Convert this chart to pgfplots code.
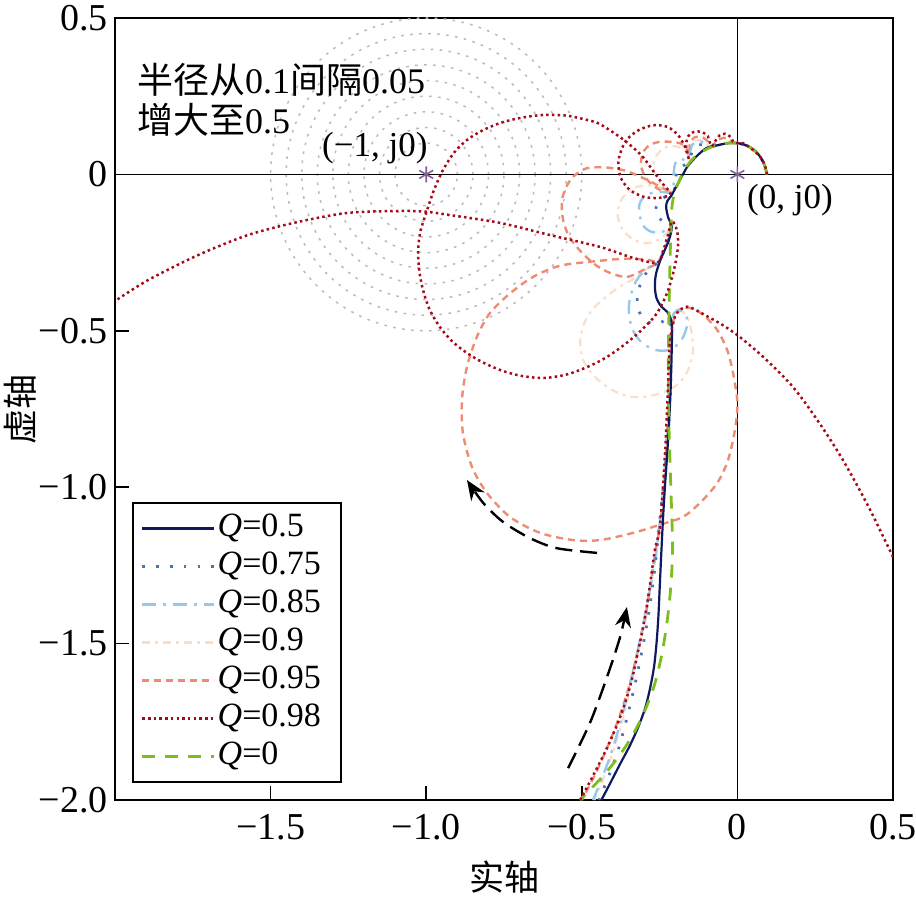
\documentclass[border=0pt]{standalone}
\usepackage{pgfplots}
\pgfplotsset{compat=1.18}
\usepackage{fontspec}
\usetikzlibrary{arrows.meta}
\setmainfont{Liberation Serif}
\newfontfamily\cjk{Noto Sans CJK SC}
\definecolor{cnavy}{RGB}{15,25,95}
\definecolor{cblue}{RGB}{75,115,175}
\definecolor{clblue}{RGB}{150,200,235}
\definecolor{cpeach}{RGB}{250,222,200}
\definecolor{csalmon}{RGB}{238,140,115}
\definecolor{cred}{RGB}{165,10,25}
\definecolor{cgreen}{RGB}{125,190,30}
\definecolor{cgray}{RGB}{185,185,192}
\definecolor{cpurple}{RGB}{130,95,150}
\tikzset{
  s05/.style={cnavy, line width=1.1pt, solid},
  s075/.style={cblue, line width=1.4pt, dash pattern=on 1.3pt off 5.6pt},
  s085/.style={clblue, line width=1.2pt, dash pattern=on 7pt off 3.5pt on 1.4pt off 3.5pt},
  s09/.style={cpeach, line width=1.1pt, dash pattern=on 4pt off 2.5pt on 1.5pt off 2.5pt},
  s095/.style={csalmon, line width=1.2pt, dash pattern=on 3.5pt off 2.5pt},
  s098/.style={cred, line width=1.25pt, dash pattern=on 1.25pt off 1.6pt},
  s0/.style={cgreen, line width=1.4pt, dash pattern=on 6.5pt off 5pt},
}
\begin{document}
\begin{tikzpicture}
\path[use as bounding box] (-57.5pt,-50.5pt) rectangle (400.5pt,400pt);
\begin{axis}[
  at={(0,0)}, anchor=south west,
  scale only axis, width=389pt, height=391pt,
  xmin=-2, xmax=0.5, ymin=-2, ymax=0.5,
  axis line style={line width=0.8pt},
  xtick={-1.5,-1,-0.5,0,0.5},
  xticklabels={\mbox{−1.5},\mbox{−1.0},\mbox{−0.5},\mbox{0},\mbox{0.5}},
  ytick={-2,-1.5,-1,-0.5,0,0.5},
  yticklabels={\mbox{−2.0},\mbox{−1.5},\mbox{−1.0},\mbox{−0.5},\mbox{0},\mbox{0.5}},
  xtick pos=left, ytick pos=left,
  tick align=inside, major tick length=7pt,
  tick style={line width=0.8pt, black},
  tick label style={font=\fontsize{19}{21}\selectfont},
  xticklabel style={yshift=-3.5pt},
  xlabel={\cjk 实轴}, ylabel={\cjk 虚轴},
  label style={font=\fontsize{17.5}{20}\selectfont},
  xlabel style={at={(axis description cs:0.501,-0.0985)}, anchor=center},
  ylabel style={at={(axis description cs:-0.122,0.5)}, anchor=center},
  legend style={at={(axis description cs:0.022,0.022)}, anchor=south west,
    font=\fontsize{17}{19}\selectfont, draw=black, line width=0.8pt,
    inner sep=4pt, row sep=1.5pt,
    nodes={inner sep=1pt, text height=12pt, text depth=3.5pt}},
  legend cell align=left,
  legend image code/.code={\draw[#1] (0pt,0pt) -- (36pt,0pt);},
]
% legend entries
\addlegendimage{s05}\addlegendentry{\textit{Q}=0.5}
\addlegendimage{s075}\addlegendentry{\textit{Q}=0.75\rule{5pt}{0pt}}
\addlegendimage{s085}\addlegendentry{\textit{Q}=0.85}
\addlegendimage{s09}\addlegendentry{\textit{Q}=0.9}
\addlegendimage{s095}\addlegendentry{\textit{Q}=0.95}
\addlegendimage{s098}\addlegendentry{\textit{Q}=0.98}
\addlegendimage{s0}\addlegendentry{\textit{Q}=0}

% gray circles (radius 0.1 to 0.5 step 0.05 around -1+j0)
\pgfplotsinvokeforeach{0.1,0.15,0.2,0.25,0.3,0.35,0.4,0.45,0.5}{
  \draw[cgray, line width=0.75pt, dash pattern=on 1.3pt off 3.2pt] (axis cs:-1,0) ellipse [x radius=#1, y radius=#1];
}
% axes through origin
\draw[black, line width=0.7pt] (axis cs:-2,0) -- (axis cs:0.5,0);
\draw[black, line width=0.7pt] (axis cs:0,-2) -- (axis cs:0,0.5);

% Q=0.9
\addplot[s09, smooth, forget plot] coordinates {
(0.095,0) (0.085,0.035) (0.065,0.067) (0.035,0.09) (0,0.1) (-0.03,0.1) (-0.06,0.094) (-0.09,0.088)
(-0.1,0.1) (-0.12,0.11) (-0.14,0.105) (-0.152,0.08) (-0.155,0.05)
(-0.17,0.078) (-0.2,0.09) (-0.235,0.085) (-0.26,0.06) (-0.27,0.03) (-0.26,-0.01) (-0.235,-0.045) (-0.207,-0.058)
(-0.25,-0.04) (-0.3,-0.035) (-0.345,-0.05) (-0.375,-0.085) (-0.385,-0.13) (-0.37,-0.175) (-0.335,-0.208) (-0.29,-0.22) (-0.248,-0.205) (-0.22,-0.18) (-0.213,-0.16)
(-0.225,-0.215) (-0.24,-0.25) (-0.258,-0.283)
(-0.295,-0.305) (-0.335,-0.335) (-0.38,-0.36) (-0.42,-0.39) (-0.46,-0.425) (-0.49,-0.47) (-0.505,-0.53) (-0.495,-0.595) (-0.46,-0.645) (-0.41,-0.685) (-0.35,-0.71) (-0.29,-0.71) (-0.235,-0.695) (-0.19,-0.67) (-0.158,-0.625) (-0.143,-0.565) (-0.148,-0.5) (-0.162,-0.455) (-0.185,-0.435) (-0.205,-0.445)
(-0.213,-0.52) (-0.218,-0.65) (-0.224,-0.8) (-0.232,-0.95) (-0.244,-1.1) (-0.258,-1.2) (-0.276,-1.306) (-0.293,-1.415) (-0.318,-1.52) (-0.34,-1.62) (-0.365,-1.73) (-0.398,-1.84) (-0.43,-1.93) (-0.46,-2.0)
};
% Q=0.95
\addplot[s095, smooth, forget plot] coordinates {
(0.095,0) (0.085,0.035) (0.065,0.067) (0.035,0.09) (0,0.1) (-0.015,0.1) (-0.025,0.112) (-0.045,0.117) (-0.065,0.108) (-0.08,0.092)
(-0.09,0.09) (-0.095,0.105) (-0.115,0.12) (-0.14,0.117) (-0.153,0.095) (-0.155,0.06)
(-0.165,0.085) (-0.185,0.1) (-0.24,0.105) (-0.28,0.095) (-0.303,0.07) (-0.31,0.03) (-0.295,-0.01) (-0.265,-0.04) (-0.235,-0.055) (-0.207,-0.058)
(-0.238,-0.045) (-0.275,-0.025) (-0.313,-0.007) (-0.36,0.012) (-0.42,0.022) (-0.483,0.02) (-0.525,-0.005) (-0.55,-0.04) (-0.564,-0.085) (-0.56,-0.146) (-0.54,-0.2) (-0.5,-0.25) (-0.455,-0.29) (-0.409,-0.315) (-0.355,-0.328) (-0.303,-0.306) (-0.258,-0.283)
(-0.3,-0.272) (-0.37,-0.27) (-0.451,-0.277) (-0.57,-0.292) (-0.657,-0.328) (-0.73,-0.38) (-0.795,-0.443) (-0.837,-0.519) (-0.869,-0.615) (-0.885,-0.72) (-0.882,-0.827) (-0.853,-0.935) (-0.805,-1.018) (-0.731,-1.095) (-0.634,-1.146) (-0.528,-1.169) (-0.441,-1.169) (-0.335,-1.146) (-0.249,-1.12) (-0.175,-1.095) (-0.12,-1.05) (-0.065,-0.987) (-0.03,-0.913) (-0.008,-0.817) (0,-0.73) (-0.014,-0.635) (-0.033,-0.561) (-0.065,-0.497) (-0.11,-0.449) (-0.152,-0.427) (-0.18,-0.43) (-0.2,-0.445)
(-0.212,-0.52) (-0.218,-0.65) (-0.225,-0.8) (-0.233,-0.95) (-0.246,-1.1) (-0.262,-1.2) (-0.279,-1.306) (-0.296,-1.415) (-0.32,-1.52) (-0.345,-1.626) (-0.378,-1.73) (-0.412,-1.818) (-0.458,-1.92) (-0.5,-2.0)
};
% Q=0.85
\addplot[s085, smooth, forget plot] coordinates {
(0.095,0) (0.085,0.035) (0.065,0.067) (0.035,0.09) (0,0.1) (-0.03,0.1) (-0.06,0.094) (-0.09,0.088)
(-0.105,0.1) (-0.125,0.106) (-0.145,0.095) (-0.155,0.06) (-0.165,0.045) (-0.185,0.05) (-0.2,0.035) (-0.205,0.0) (-0.205,-0.035) (-0.207,-0.058)
(-0.249,-0.056) (-0.29,-0.064) (-0.313,-0.09) (-0.315,-0.125) (-0.303,-0.163) (-0.28,-0.182) (-0.249,-0.186) (-0.225,-0.175) (-0.213,-0.16)
(-0.225,-0.215) (-0.24,-0.25) (-0.258,-0.283)
(-0.29,-0.3) (-0.325,-0.34) (-0.346,-0.4) (-0.348,-0.45) (-0.335,-0.5) (-0.305,-0.54) (-0.26,-0.562) (-0.215,-0.56) (-0.18,-0.53) (-0.162,-0.485) (-0.165,-0.45) (-0.185,-0.435) (-0.205,-0.445)
(-0.212,-0.5) (-0.214,-0.6) (-0.218,-0.7) (-0.223,-0.8) (-0.23,-0.9) (-0.238,-1.0) (-0.248,-1.1) (-0.26,-1.2) (-0.277,-1.306) (-0.298,-1.415) (-0.32,-1.52) (-0.343,-1.62) (-0.37,-1.73) (-0.402,-1.84) (-0.435,-1.93) (-0.464,-2.0)
};
% Q=0.75
\addplot[s075, smooth, forget plot] coordinates {
(0.095,0) (0.085,0.035) (0.065,0.067) (0.035,0.09) (0,0.1) (-0.03,0.1) (-0.06,0.094) (-0.09,0.088)
(-0.11,0.095) (-0.13,0.092) (-0.145,0.072) (-0.155,0.045) (-0.17,0.03) (-0.19,0.02) (-0.198,-0.01) (-0.2,-0.04) (-0.207,-0.058)
(-0.225,-0.068) (-0.245,-0.08) (-0.258,-0.097) (-0.263,-0.115) (-0.258,-0.133) (-0.243,-0.147) (-0.225,-0.155) (-0.213,-0.16)
(-0.222,-0.21) (-0.238,-0.25) (-0.258,-0.283)
(-0.285,-0.305) (-0.305,-0.335) (-0.318,-0.37) (-0.322,-0.405) (-0.315,-0.44) (-0.297,-0.465) (-0.27,-0.478) (-0.243,-0.472) (-0.222,-0.46)
(-0.212,-0.5) (-0.213,-0.6) (-0.216,-0.7) (-0.221,-0.8) (-0.228,-0.9) (-0.238,-1.0) (-0.249,-1.1) (-0.259,-1.2) (-0.271,-1.306) (-0.287,-1.415) (-0.306,-1.52) (-0.328,-1.625) (-0.353,-1.73) (-0.383,-1.84) (-0.414,-1.925) (-0.445,-2.0)
};
% Q=0.5
\addplot[s05, smooth, forget plot] coordinates {
(0.095,0) (0.085,0.035) (0.065,0.067) (0.035,0.09) (0,0.1) (-0.03,0.1) (-0.06,0.094) (-0.098,0.085) (-0.127,0.062) (-0.148,0.04) (-0.162,0.023) (-0.175,0.0) (-0.185,-0.018) (-0.2,-0.045) (-0.211,-0.066) (-0.225,-0.085) (-0.229,-0.104) (-0.223,-0.136) (-0.211,-0.168) (-0.22,-0.21) (-0.235,-0.245) (-0.249,-0.278) (-0.262,-0.32) (-0.265,-0.36) (-0.26,-0.395) (-0.245,-0.422) (-0.225,-0.44) (-0.213,-0.465) (-0.21,-0.5) (-0.212,-0.6) (-0.215,-0.7) (-0.22,-0.8) (-0.226,-0.9) (-0.233,-1.0) (-0.239,-1.1) (-0.244,-1.2) (-0.249,-1.306) (-0.254,-1.415) (-0.26,-1.5) (-0.268,-1.575) (-0.28,-1.64) (-0.296,-1.705) (-0.318,-1.765) (-0.345,-1.825) (-0.377,-1.885) (-0.408,-1.945) (-0.437,-2.0)
};
% Q=0
\addplot[s0, smooth, forget plot] coordinates {
(0.095,0) (0.085,0.035) (0.065,0.067) (0.035,0.09) (0,0.1) (-0.03,0.1) (-0.06,0.094) (-0.09,0.085) (-0.12,0.068) (-0.145,0.048) (-0.165,0.022) (-0.18,-0.005) (-0.193,-0.035) (-0.203,-0.062) (-0.21,-0.1) (-0.213,-0.15) (-0.217,-0.3) (-0.22,-0.45) (-0.222,-0.6) (-0.22,-0.8) (-0.214,-1.0) (-0.209,-1.15) (-0.209,-1.23) (-0.215,-1.33) (-0.226,-1.43) (-0.242,-1.53) (-0.266,-1.63) (-0.302,-1.725) (-0.35,-1.815) (-0.42,-1.91) (-0.506,-2.0)
};
% Q=0.98
\addplot[s098, smooth, forget plot] coordinates {
(0.095,0) (0.088,0.03) (0.072,0.058) (0.05,0.078) (0.018,0.1) (-0.005,0.1) (-0.014,0.105) (-0.022,0.12) (-0.04,0.13) (-0.058,0.124) (-0.07,0.108) (-0.082,0.09)
(-0.088,0.1) (-0.095,0.122) (-0.115,0.136) (-0.14,0.136) (-0.158,0.122) (-0.165,0.095) (-0.16,0.065) (-0.155,0.045)
(-0.168,0.087) (-0.19,0.125) (-0.225,0.152) (-0.271,0.157) (-0.32,0.14) (-0.36,0.105) (-0.382,0.045) (-0.375,-0.01) (-0.345,-0.05) (-0.3,-0.072) (-0.25,-0.075) (-0.215,-0.062)
(-0.24,-0.03) (-0.27,0.01) (-0.303,0.055) (-0.34,0.09) (-0.377,0.119) (-0.442,0.161) (-0.483,0.174) (-0.55,0.188) (-0.625,0.19) (-0.7,0.18) (-0.763,0.164) (-0.82,0.14) (-0.869,0.11) (-0.91,0.07) (-0.946,0.014) (-0.975,-0.05) (-0.997,-0.114) (-1.018,-0.18) (-1.026,-0.242) (-1.022,-0.31) (-1.01,-0.37) (-0.99,-0.43) (-0.956,-0.488) (-0.915,-0.535) (-0.869,-0.571) (-0.82,-0.6) (-0.763,-0.625) (-0.7,-0.643) (-0.625,-0.651) (-0.55,-0.64) (-0.483,-0.616) (-0.43,-0.59) (-0.387,-0.562) (-0.345,-0.53) (-0.3,-0.49) (-0.258,-0.443) (-0.226,-0.379) (-0.204,-0.306) (-0.191,-0.232) (-0.194,-0.18) (-0.21,-0.15)
(-0.225,-0.2) (-0.24,-0.248) (-0.258,-0.283)
(-0.335,-0.267) (-0.441,-0.232) (-0.602,-0.194) (-0.763,-0.155) (-0.924,-0.13) (-1.004,-0.119) (-1.091,-0.117) (-1.251,-0.123) (-1.412,-0.152) (-1.573,-0.194) (-1.733,-0.258) (-1.894,-0.338) (-2,-0.405)
};
\addplot[s098, smooth, forget plot] coordinates {
(0.5,-1.223) (0.42,-1.06) (0.339,-0.913) (0.26,-0.79) (0.179,-0.68) (0.09,-0.59) (0.008,-0.52) (-0.05,-0.48) (-0.1,-0.452) (-0.14,-0.43) (-0.162,-0.423) (-0.185,-0.433) (-0.201,-0.456) (-0.212,-0.5) (-0.218,-0.55) (-0.222,-0.65) (-0.228,-0.8) (-0.236,-0.95) (-0.249,-1.127) (-0.265,-1.2) (-0.28,-1.306) (-0.297,-1.415) (-0.318,-1.52) (-0.342,-1.626) (-0.375,-1.73) (-0.415,-1.825) (-0.46,-1.915) (-0.505,-2.0)
};

% critical points
\addplot[only marks, mark=asterisk, mark size=4pt, cpurple, mark options={line width=0.8pt}, forget plot] coordinates {(-1,0) (0,0)};

% direction arrows
\draw[black, line width=1.2pt, dash pattern=on 8.5pt off 4pt, -{Stealth[length=10pt,width=8pt]}]
  plot[smooth] coordinates {(axis cs:-0.451,-1.21) (axis cs:-0.58,-1.195) (axis cs:-0.666,-1.163) (axis cs:-0.753,-1.111) (axis cs:-0.817,-1.05) (axis cs:-0.869,-0.977)};
\draw[black, line width=1.2pt, dash pattern=on 8.5pt off 4pt, -{Stealth[length=10pt,width=8pt]}]
  plot[smooth] coordinates {(axis cs:-0.544,-1.898) (axis cs:-0.474,-1.754) (axis cs:-0.419,-1.607) (axis cs:-0.377,-1.479) (axis cs:-0.355,-1.383)};

% annotations
\node[anchor=west, font=\fontsize{18}{20}\selectfont, inner sep=0pt] at (axis cs:-1.93,0.302) {{\cjk 半径从}0.1{\cjk 间隔}0.05};
\node[anchor=west, font=\fontsize{18}{20}\selectfont, inner sep=0pt] at (axis cs:-1.93,0.174) {{\cjk 增大至}0.5};
\node[font=\fontsize{17.5}{20}\selectfont] at (axis cs:-1.165,0.084) {(−1, j0)};
\node[font=\fontsize{17.5}{20}\selectfont] at (axis cs:0.169,-0.083) {(0, j0)};
\end{axis}
\end{tikzpicture}
\end{document}
